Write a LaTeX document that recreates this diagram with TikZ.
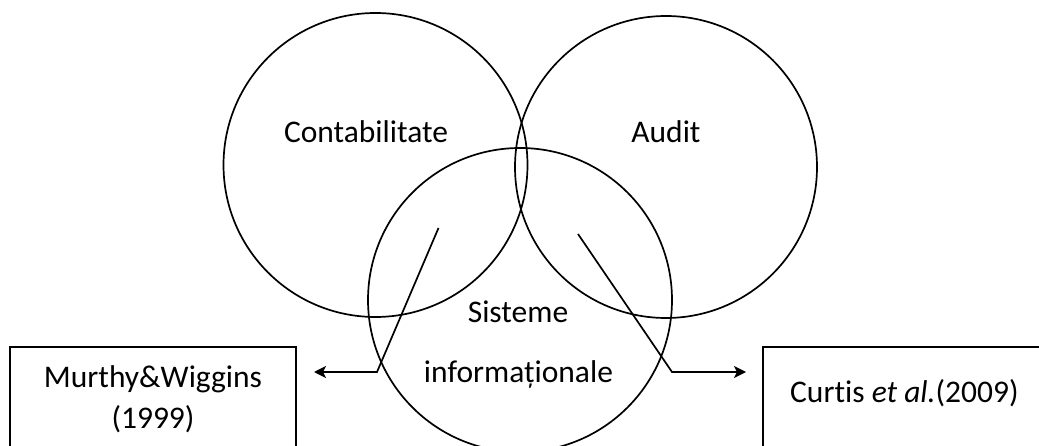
\documentclass[tikz,border=0pt]{standalone}
\usepackage{fontspec}
\setmainfont{Carlito}[Ligatures=NoCommon]
\usetikzlibrary{arrows.meta}
\begin{document}
\begin{tikzpicture}[x=1pt,y=-1pt,
  ring/.style={draw,circle,line width=1.7pt,inner sep=0pt},
  label/.style={font=\fontsize{31.5}{38}\selectfont,inner sep=0pt,anchor=base},
  refbox/.style={draw,line width=1.7pt},
  pointer/.style={line width=1.7pt,-{Stealth[length=12pt,width=12pt,inset=3pt]}}]
  \useasboundingbox (0,0) rectangle (1039,446);
  \clip (0,0) rectangle (1039,446);
  % three overlapping fields
  \node[ring,minimum size=304pt] (acc) at (375.5,165) {};
  \node[ring,minimum size=302pt] (aud) at (666,167) {};
  \node[ring,minimum size=304pt] (sys) at (520,300) {};
  \node[label] (taccount) at (366,143) {Contabilitate};
  \node[label] (taudit) at (666,143) {Audit};
  \node[label] (tsys1) at (518,323) {Sisteme};
  \node[label] (tsys2) at (518.5,382) {informaționale};
  % reference boxes (running off the lower and right borders)
  \draw[refbox] (10,347) rectangle (296,470);
  \draw[refbox] (763,347) rectangle (1060,470);
  \node[label] (mw1) at (153,388) {Murthy\&Wiggins};
  \node[label] (mw2) at (153,428) {(1999)};
  \node[label,anchor=base west] (cu) at (790,402) {Curtis \textit{et al.}(2009)};
  % pointers from the overlaps to the references
  \coordinate (lstart) at (438.5,228);
  \coordinate (lbend) at (377,372);
  \coordinate (lend) at (314,372);
  \coordinate (rstart) at (578,234);
  \coordinate (rbend) at (672,372);
  \coordinate (rend) at (746,372);
  \draw[pointer] (lstart) -- (lbend) -- (lend);
  \draw[pointer] (rstart) -- (rbend) -- (rend);
\end{tikzpicture}
\end{document}
